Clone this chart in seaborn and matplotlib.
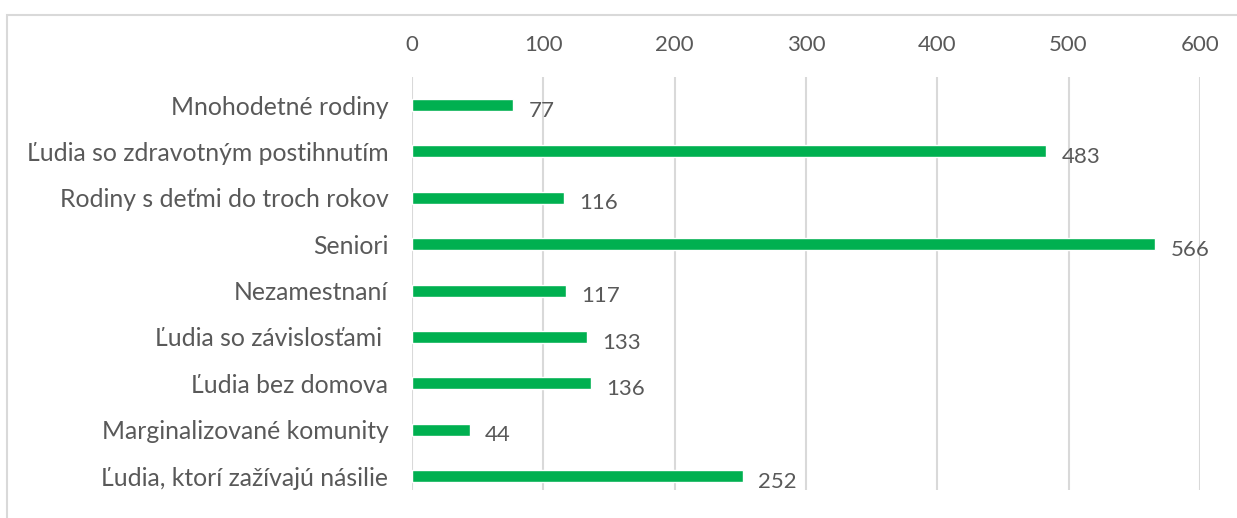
import pandas as pd
import seaborn as sns
import matplotlib.pyplot as plt
from matplotlib.patches import Rectangle

# === Data
categories = [
    "Mnohodetné rodiny",
    "Ľudia so zdravotným postihnutím",
    "Rodiny s deťmi do troch rokov",
    "Seniori",
    "Nezamestnaní",
    "Ľudia so závislosťami ",
    "Ľudia bez domova",
    "Marginalizované komunity",
    "Ľudia, ktorí zažívajú násilie",
]
values = [77, 483, 116, 566, 117, 133, 136, 44, 252]
x_ticks = [0, 100, 200, 300, 400, 500, 600]

df = pd.DataFrame({"Skupina": categories, "Počet": values})

sns.set_theme(style="white")
plt.rcParams['font.family'] = ['Lato', 'DejaVu Sans']

text_col = "#595959"
grid_col = "#D9D9D9"
bar_col = "#00B050"

fig = plt.figure(figsize=(12.37, 5.18), dpi=100)
ax = fig.add_axes([0.333, 0.054, 0.637, 0.797])

sns.barplot(data=df, x="Počet", y="Skupina", color=bar_col, width=0.26,
            saturation=1, orient="h", ax=ax)

ax.set_xlim(0, 600)
ax.set_ylim(8.3, -0.6)
ax.set_xticks(x_ticks)
ax.xaxis.tick_top()
ax.tick_params(axis="x", length=0, pad=16, labelsize=16, labelcolor=text_col)
ax.tick_params(axis="y", length=0, pad=17, labelsize=17.8, labelcolor=text_col)
ax.set_xlabel("")
ax.set_ylabel("")
ax.grid(axis="x", color=grid_col, linewidth=1.5)
ax.set_axisbelow(True)
for s in ax.spines.values():
    s.set_visible(False)

# === value labels
for i, v in enumerate(values):
    ax.annotate(str(v), (v, i), xytext=(11, -4), textcoords="offset points",
                va="center", ha="left", fontsize=16, color=text_col)

# === chart frame
fig.patches.append(Rectangle((0.006, -0.1), 1.1, 1.071, transform=fig.transFigure,
                             fill=False, edgecolor=grid_col, linewidth=1.5))

fig.savefig("out.png", dpi=100)
